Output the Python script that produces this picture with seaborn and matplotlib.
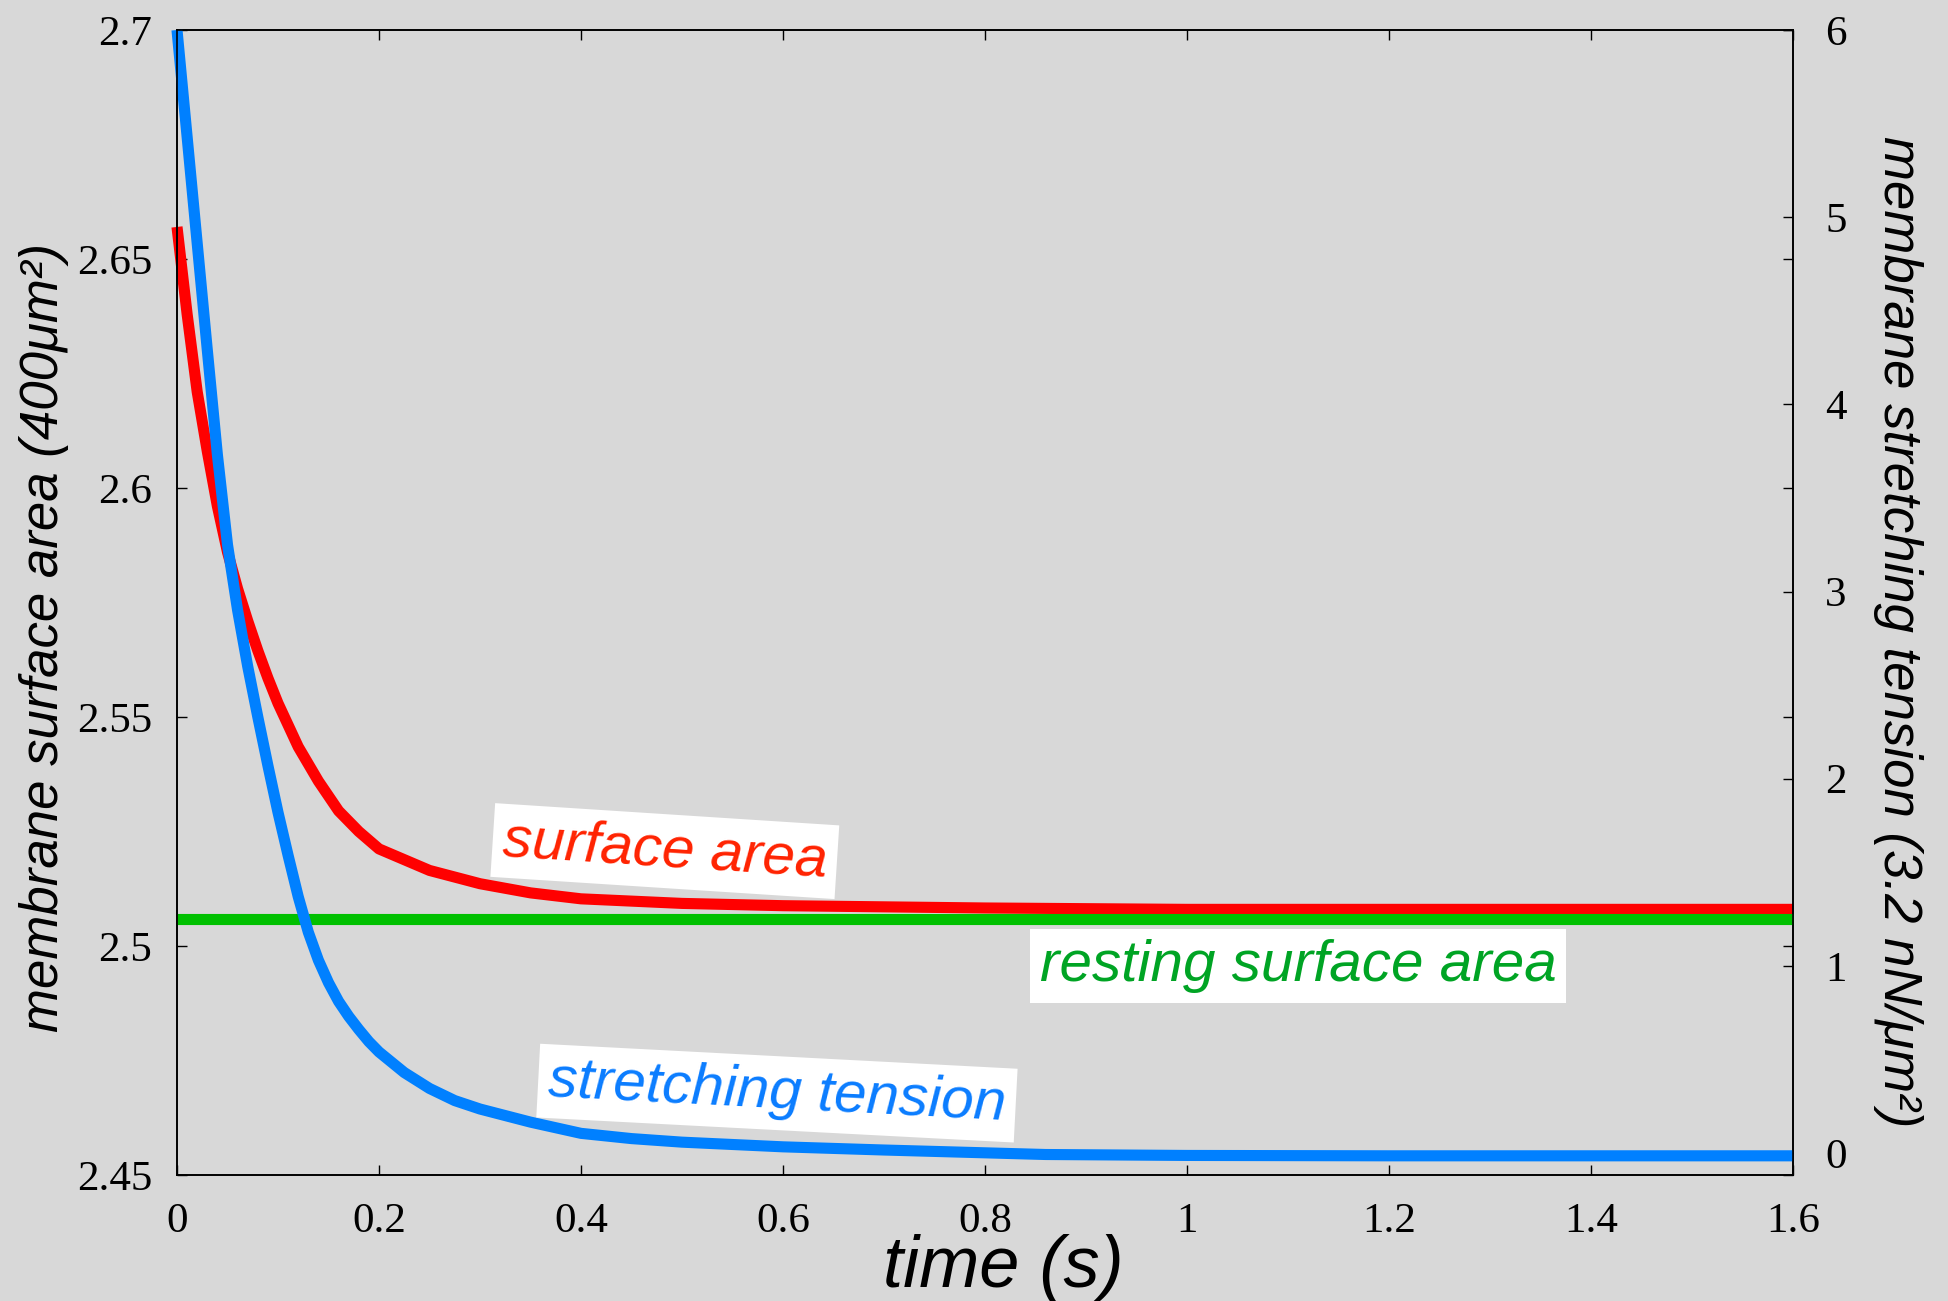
import matplotlib
matplotlib.use("Agg")
import matplotlib.pyplot as plt
import seaborn as sns

# ---------------- data ----------------
area_time = [0.0, 0.01, 0.02, 0.03, 0.04, 0.05, 0.06, 0.07, 0.08, 0.09, 0.10,
             0.12, 0.14, 0.16, 0.18, 0.20, 0.25, 0.30, 0.35, 0.40, 0.50, 0.60,
             0.80, 1.0, 1.6]
area_value = [2.657, 2.638, 2.621, 2.608, 2.596, 2.586, 2.578, 2.571, 2.5645, 2.5585, 2.553,
              2.5435, 2.536, 2.5295, 2.525, 2.5212, 2.5165, 2.5136, 2.5116, 2.5103, 2.5093, 2.5088,
              2.5083, 2.508, 2.508]

tension_time = [0.0, 0.01, 0.02, 0.03, 0.04, 0.05, 0.06, 0.07, 0.08, 0.09, 0.10,
                0.11, 0.12, 0.13, 0.14, 0.15, 0.16, 0.17, 0.18, 0.19, 0.20,
                0.225, 0.25, 0.275, 0.30, 0.35, 0.40, 0.45, 0.50, 0.60, 0.70,
                0.86, 1.0, 1.2, 1.6]
tension_value = [6.0, 5.43, 4.86, 4.29, 3.73, 3.25, 2.90, 2.60, 2.33, 2.07, 1.82,
                 1.59, 1.37, 1.18, 1.03, 0.91, 0.81, 0.73, 0.66, 0.595, 0.54,
                 0.43, 0.345, 0.28, 0.235, 0.165, 0.105, 0.077, 0.058, 0.033, 0.016,
                 -0.008, -0.013, -0.015, -0.015]

rest_time = [0.0, 1.6]
rest_area = [2.506, 2.506]

x_ticks = [0, 0.2, 0.4, 0.6, 0.8, 1.0, 1.2, 1.4, 1.6]
x_tick_labels = ["0", "0.2", "0.4", "0.6", "0.8", "1", "1.2", "1.4", "1.6"]
area_ticks = [2.45, 2.5, 2.55, 2.6, 2.65, 2.7]
area_tick_labels = ["2.45", "2.5", "2.55", "2.6", "2.65", "2.7"]
tension_ticks = [0, 1, 2, 3, 4, 5, 6]
tension_tick_labels = ["0", "1", "2", "3", "4", "5", "6"]

# ---------------- style ----------------
sns.set_style("ticks")
bg = "#d8d8d8"
plt.rcParams["font.family"] = ["Liberation Sans", "DejaVu Sans"]
plt.rcParams["text.color"] = "black"
plt.rcParams["axes.labelcolor"] = "black"
plt.rcParams["xtick.color"] = "black"
plt.rcParams["ytick.color"] = "black"
plt.rcParams["xtick.labelcolor"] = "black"
plt.rcParams["ytick.labelcolor"] = "black"

W, H = 1949, 1301
L, R, T, B = 177, 1793, 30, 1175

fig = plt.figure(figsize=(W / 100, H / 100), dpi=100, facecolor=bg)
ax1 = fig.add_axes([L / W, 1 - B / H, (R - L) / W, (B - T) / H])
ax1.set_facecolor(bg)
ax2 = ax1.twinx()

lw = 8
sns.lineplot(x=area_time, y=area_value, ax=ax1, color="#ff0000", linewidth=lw,
             solid_capstyle="butt", solid_joinstyle="round", clip_on=False, zorder=2)
sns.lineplot(x=rest_time, y=rest_area, ax=ax1, color="#00c000", linewidth=lw,
             solid_capstyle="butt", clip_on=False, zorder=3)
sns.lineplot(x=tension_time, y=tension_value, ax=ax2, color="#0080ff", linewidth=lw,
             solid_capstyle="butt", solid_joinstyle="round", clip_on=False, zorder=2)

ax1.set_xlim(0, 1.6)
ax1.set_ylim(2.45, 2.7)
ax2.set_ylim(-0.1175, 6.0)

tick_font = dict(family="Liberation Serif", size=31, color="black")
ax1.set_xticks(x_ticks)
ax1.set_xticklabels(x_tick_labels, fontdict=tick_font)
ax1.set_yticks(area_ticks)
ax1.set_yticklabels(area_tick_labels, fontdict=tick_font)
ax2.set_yticks(tension_ticks)
ax2.set_yticklabels(tension_tick_labels, fontdict=tick_font)

ax1.tick_params(axis="both", direction="in", length=7, width=1, color="black",
                top=True, right=True, labelright=False)
ax1.tick_params(axis="x", pad=20)
ax1.tick_params(axis="y", pad=18)
ax2.tick_params(axis="y", direction="in", length=7, width=1, color="black",
                left=False, right=True, pad=23)

for a in (ax1, ax2):
    for sp in a.spines.values():
        sp.set_visible(True)
        sp.set_color("black")
        sp.set_linewidth(1.2)

# axis labels
ax1.set_xlabel("time (s)", fontsize=52, style="italic", color="black")
ax1.xaxis.set_label_coords((1003 - L) / (R - L), (B - 1287) / (B - T))
ax1.xaxis.label.set_va("baseline")

ax1.set_ylabel("membrane surface area (400\u03bcm\u00b2)", fontsize=38, style="italic",
               color="black")
ax1.yaxis.set_label_coords((44 - L) / (R - L), (B - 637) / (B - T))
ax1.yaxis.label.set_va("center")

ax2.set_ylabel("membrane stretching tension (3.2 nN/\u03bcm\u00b2)", fontsize=38,
               style="italic", rotation=-90, color="black")
ax2.yaxis.set_label_coords((1898 - L) / (R - L), (B - 632) / (B - T))
ax2.yaxis.label.set_va("center")

# annotations
box = dict(boxstyle="square,pad=0.17", fc="white", ec="none")
ax2.text(0.483, 1.613, "surface area", color="#ff2200", fontsize=42, style="italic",
         rotation=-3.7, rotation_mode="anchor", ha="center", va="center",
         bbox=box, zorder=5)
ax2.text(0.594, 0.32, "stretching tension", color="#0a7cff", fontsize=42, style="italic",
         rotation=-3.0, rotation_mode="anchor", ha="center", va="center",
         bbox=box, zorder=5)
ax2.text(1.110, 0.999, "resting surface area", color="#00a424", fontsize=42,
         style="italic", ha="center", va="center", bbox=box, zorder=5)

fig.savefig("out.png", dpi=100, facecolor=bg)
